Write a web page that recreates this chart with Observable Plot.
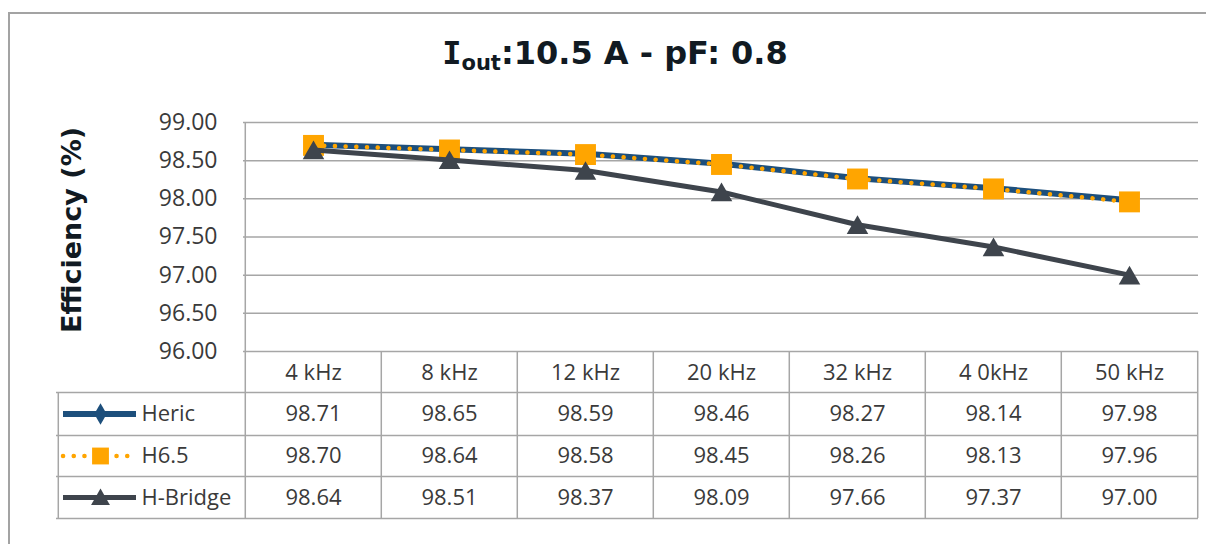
<!DOCTYPE html>
<html>
<head>
<meta charset="utf-8">
<script src="https://cdn.jsdelivr.net/npm/d3@7"></script>
<script src="https://cdn.jsdelivr.net/npm/@observablehq/plot@0.6"></script>
<style>
  html, body { margin: 0; padding: 0; background: #fff; }
  #wrap { position: relative; width: 1206px; height: 544px; overflow: hidden; background: #fff; }
  #frame { position: absolute; left: 8px; top: 12px; width: 1300px; height: 700px; border: 2px solid #a3a3a3; box-sizing: border-box; }
  #title { position: absolute; left: 8px; top: 33px; width: 1214px; text-align: center; line-height: 40px;
           font-family: "DejaVu Sans", Verdana, sans-serif; font-weight: bold; font-size: 32px; color: #111a22; }
  #title .cap { font-family: "DejaVu Sans Mono", "DejaVu Sans", monospace; }
  #title sub { font-size: 21px; vertical-align: -6px; line-height: 0; }
  #chart { position: absolute; left: 0; top: 0; }
</style>
</head>
<body>
<div id="wrap">
  <div id="frame"></div>
  <div id="title"><span class="cap">I</span><sub>out</sub>:10.5 A - pF: 0.8</div>
  <div id="chart"></div>
</div>
<script>
// ---- data ----
const categories = ["4 kHz", "8 kHz", "12 kHz", "20 kHz", "32 kHz", "4 0kHz", "50 kHz"];
const seriesNames = ["Heric", "H6.5", "H-Bridge"];
const hericValues = [98.71, 98.65, 98.59, 98.46, 98.27, 98.14, 97.98];
const h65Values = [98.70, 98.64, 98.58, 98.45, 98.26, 98.13, 97.96];
const hBridgeValues = [98.64, 98.51, 98.37, 98.09, 97.66, 97.37, 97.00];
const yTicks = [96.0, 96.5, 97.0, 97.5, 98.0, 98.5, 99.0];
const yLabel = "Efficiency (%)";

// ---- layout / styles ----
const W = 1206, H = 544;
const mL = 243, mR = 8, mT = 122, mB = 193;
const bw = (W - mL - mR) / categories.length;
const gridColor = "#a6a6a6";
const textColor = "#3a3a3a";
const styles = [
  {color: "#1d4f7c", width: 6, symbol: "diamond", r: 4.3, lr: 6.5},
  {color: "#ffa500", width: 4.5, symbol: "square", r: 11.8, lr: 9.5, dash: "0.1 10.6"},
  {color: "#3e444c", width: 5, symbol: "triangle", r: 8, lr: 7, tdy: 3}
];
const valuesList = [hericValues, h65Values, hBridgeValues];
const rows = seriesNames.map((name, i) => categories.map((c, j) => ({name, c, v: valuesList[i][j]})));
const rowDy = [62.5, 104.5, 146];
const lineDy = [41, 84, 125, 167];

const marks = [];
// gridlines
marks.push(Plot.ruleY(yTicks, {stroke: gridColor, strokeWidth: 1.5}));
// y tick labels
marks.push(Plot.text(yTicks, {y: d => d, frameAnchor: "left", dx: -26, textAnchor: "end", lineAnchor: "middle",
  text: d => d.toFixed(2), fill: textColor, fontSize: 23}));
// y axis label
marks.push(Plot.text([yLabel], {frameAnchor: "left", dx: -171, dy: -7, rotate: -90, text: d => d,
  textAnchor: "middle", lineAnchor: "middle",
  fontSize: 27, fontWeight: "bold", fontFamily: "DejaVu Sans", fill: "#111a22"}));
// plot left border (extends through table)
marks.push(Plot.ruleX([categories[0]], {x: d => d, dx: -bw / 2, insetBottom: -167, stroke: gridColor, strokeWidth: 1.5}));
// table vertical lines
marks.push(Plot.ruleX(categories.slice(1), {x: d => d, dx: -bw / 2, insetTop: 229, insetBottom: -167, stroke: gridColor, strokeWidth: 1.5}));
marks.push(Plot.ruleX([categories[categories.length - 1]], {x: d => d, dx: bw / 2, insetTop: 229, insetBottom: -167, stroke: gridColor, strokeWidth: 1.5}));
marks.push(Plot.ruleX([categories[0]], {x: d => d, dx: -bw / 2 - 187, insetTop: 270, insetBottom: -167, stroke: gridColor, strokeWidth: 1.5}));
// table horizontal lines
lineDy.forEach(dy => marks.push(Plot.ruleY([yTicks[0]], {dy, insetLeft: -187, stroke: gridColor, strokeWidth: 1.5})));
// header row
marks.push(Plot.text(categories, {x: d => d, frameAnchor: "bottom", dy: 21, lineAnchor: "middle", textAnchor: "middle",
  text: d => d, fill: textColor, fontSize: 22}));
// value rows + legend
rows.forEach((row, i) => {
  const s = styles[i];
  marks.push(Plot.text(row, {x: "c", frameAnchor: "bottom", dy: rowDy[i], lineAnchor: "middle", textAnchor: "middle",
    text: d => d.v.toFixed(2), fill: textColor, fontSize: 22}));
  marks.push(Plot.ruleY([yTicks[0]], {dy: rowDy[i], insetLeft: -180, insetRight: 1062, stroke: s.color,
    strokeWidth: s.width, strokeDasharray: s.dash, strokeLinecap: s.dash ? "round" : "butt"}));
  marks.push(Plot.dot([seriesNames[i]], {frameAnchor: "bottom-left", dx: -143, dy: rowDy[i] + (s.tdy ? 2 : 0),
    symbol: s.symbol, r: s.lr, fill: s.color, stroke: "none"}));
  marks.push(Plot.text([seriesNames[i]], {frameAnchor: "bottom-left", dx: -102, dy: rowDy[i], textAnchor: "start",
    lineAnchor: "middle", text: d => d, fill: textColor, fontSize: 22}));
});
// series lines and markers
rows.forEach((row, i) => {
  const s = styles[i];
  marks.push(Plot.line(row, {x: "c", y: "v", stroke: s.color, strokeWidth: s.width,
    strokeDasharray: s.dash, strokeLinecap: s.dash ? "round" : "butt", strokeLinejoin: "round"}));
  marks.push(Plot.dot(row, {x: "c", y: "v", symbol: s.symbol, r: s.r, fill: s.color, stroke: "none", dy: s.tdy || 0}));
});

const chart = Plot.plot({
  width: W, height: H,
  marginLeft: mL, marginRight: mR, marginTop: mT, marginBottom: mB,
  x: {type: "band", domain: categories, padding: 0, axis: null},
  y: {domain: [96, 99], axis: null},
  style: {fontFamily: "'Open Sans', sans-serif", fontSize: "22px", background: "transparent", overflow: "visible"},
  marks
});
document.getElementById("chart").appendChild(chart);
</script>
</body>
</html>
